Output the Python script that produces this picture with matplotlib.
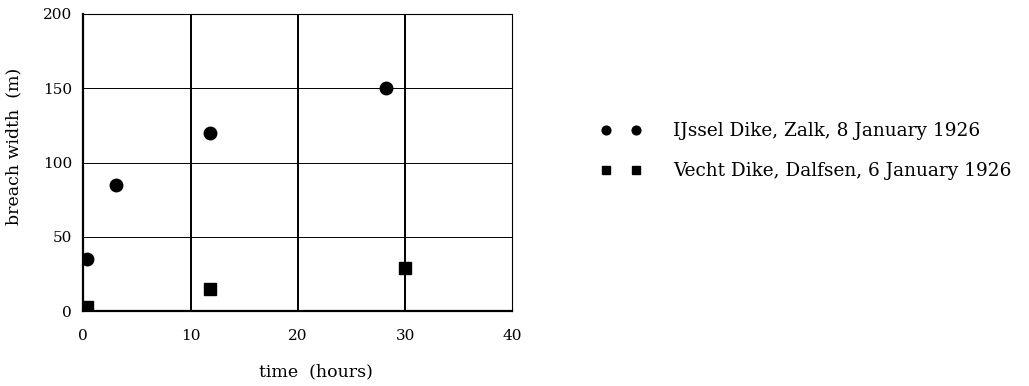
import matplotlib
matplotlib.use("Agg")
import matplotlib.pyplot as plt

plt.rcParams["font.family"] = ["DejaVu Serif"]

# IJssel Dike, Zalk
ijssel_time = [0.3, 3.0, 11.8, 28.2]
ijssel_width = [35, 85, 120, 150]
# Vecht Dike, Dalfsen
vecht_time = [0.3, 11.8, 30.0]
vecht_width = [3, 15, 29]

labels = ["IJssel Dike, Zalk, 8 January 1926", "Vecht Dike, Dalfsen, 6 January 1926"]
xticks = [0, 10, 20, 30, 40]
yticks = [0, 50, 100, 150, 200]

fig = plt.figure(figsize=(10.29, 3.86), dpi=100)
ax = fig.add_axes([0.081, 0.194, 0.417, 0.770])

# grid: vertical lines heavier than horizontal ones
for xv in xticks[1:-1]:
    ax.axvline(xv, color="black", lw=1.4, zorder=1)
for yv in yticks[1:-1]:
    ax.axhline(yv, color="black", lw=0.7, zorder=1)

ax.plot(ijssel_time, ijssel_width, "o", color="black", ms=9, label=labels[0], zorder=3)
ax.plot(vecht_time, vecht_width, "s", color="black", ms=8.5, label=labels[1], zorder=3)

ax.set_xlim(0, 40)
ax.set_ylim(0, 200)
ax.set_xticks(xticks)
ax.set_yticks(yticks)
ax.tick_params(length=0, labelsize=11)
ax.tick_params(axis="x", pad=13)
ax.tick_params(axis="y", pad=8)
for side in ["left", "bottom"]:
    ax.spines[side].set_linewidth(1.6)
for side in ["top", "right"]:
    ax.spines[side].set_linewidth(0.8)

ax.set_xlabel("time  (hours)", fontsize=12.5)
ax.set_ylabel("breach width  (m)", fontsize=12.5)
ax.xaxis.set_label_coords(0.543, -0.175)
ax.yaxis.set_label_coords(-0.143, 0.555)

fig.legend(loc="upper left", bbox_to_anchor=(0.567, 0.727), numpoints=2,
           frameon=False, fontsize=13.3, handlelength=2.25, handletextpad=1.7,
           labelspacing=1.2, markerscale=0.7)

fig.savefig("out.png", dpi=100)
